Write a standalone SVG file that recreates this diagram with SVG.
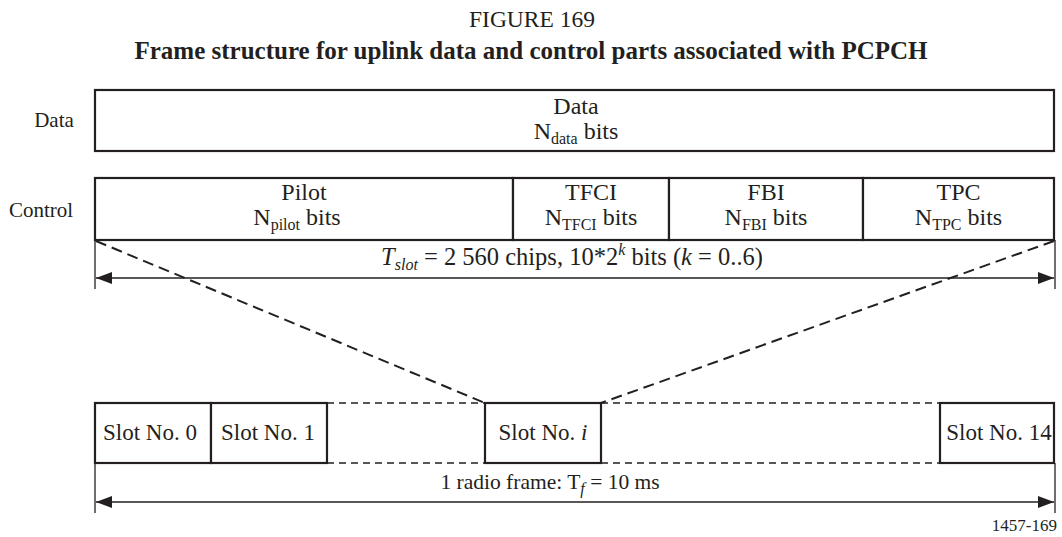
<svg xmlns="http://www.w3.org/2000/svg" width="1062" height="537" viewBox="0 0 1062 537">
<style>
text{font-family:"Liberation Serif","Times New Roman",serif;fill:#231f20;}
.t{font-size:24px;}
.c{text-anchor:middle;}
.sub{font-size:16px;}
.lab{font-size:21px;}
.sl{font-size:23px;}
.box{fill:#fff;stroke:#231f20;stroke-width:2.2;}
.thin{stroke:#231f20;stroke-width:1.3;fill:none;}
.arr{stroke:#231f20;stroke-width:1.6;fill:none;}
.dl{stroke:#231f20;stroke-width:2;fill:none;stroke-dasharray:11 6;}
.dh{stroke:#231f20;stroke-width:1.6;fill:none;stroke-dasharray:7 5;}
</style>
<defs>
<marker id="ah" viewBox="0 0 16 12" refX="16" refY="6" markerWidth="16" markerHeight="12" markerUnits="userSpaceOnUse" orient="auto-start-reverse">
<path d="M0,0 L16,6 L0,12 Z" fill="#231f20"/>
</marker>
</defs>
<text class="c" x="532" y="27" font-size="23.5">FIGURE 169</text>
<text class="c" x="531" y="59" font-size="25" font-weight="bold">Frame structure for uplink data and control parts associated with PCPCH</text>

<text class="lab c" x="54" y="127">Data</text>
<text class="lab c" x="41" y="217">Control</text>

<g id="data">
<rect class="box" x="95" y="90" width="959" height="61"/>
<text class="t c" x="576" y="114">Data</text>
<text class="t c" x="576" y="139">N<tspan class="sub" dy="5">data</tspan><tspan dy="-5"> bits</tspan></text>
</g>
<g id="pilot">
<rect class="box" x="95" y="178" width="418" height="62"/>
<text class="t c" x="304" y="200">Pilot</text>
<text class="t c" x="297" y="225">N<tspan class="sub" dy="5">pilot</tspan><tspan dy="-5"> bits</tspan></text>
</g>
<g id="tfci">
<rect class="box" x="513" y="178" width="156" height="62"/>
<text class="t c" x="591" y="200">TFCI</text>
<text class="t c" x="591" y="225">N<tspan class="sub" dy="5">TFCI</tspan><tspan dy="-5"> bits</tspan></text>
</g>
<g id="fbi">
<rect class="box" x="669" y="178" width="194" height="62"/>
<text class="t c" x="766" y="200">FBI</text>
<text class="t c" x="766" y="225">N<tspan class="sub" dy="5">FBI</tspan><tspan dy="-5"> bits</tspan></text>
</g>
<g id="tpc">
<rect class="box" x="863" y="178" width="191" height="62"/>
<text class="t c" x="958.5" y="200">TPC</text>
<text class="t c" x="958.5" y="225">N<tspan class="sub" dy="5">TPC</tspan><tspan dy="-5"> bits</tspan></text>
</g>

<g id="slot0">
<rect class="box" x="95" y="403" width="116" height="60"/>
<text class="sl c" x="150" y="440">Slot No. 0</text>
</g>
<g id="slot1">
<rect class="box" x="211" y="403" width="116" height="60"/>
<text class="sl c" x="268" y="440">Slot No. 1</text>
</g>
<g id="sloti">
<rect class="box" x="485" y="403" width="116" height="60"/>
<text class="sl c" x="543" y="440">Slot No. <tspan font-style="italic">i</tspan></text>
</g>
<g id="slot14">
<rect class="box" x="940" y="403" width="114" height="60"/>
<text class="sl c" x="999" y="440">Slot No. 14</text>
</g>

<g id="connectors">
<line class="thin" x1="95" y1="240" x2="95" y2="289"/>
<line class="thin" x1="1055" y1="240" x2="1055" y2="289"/>
<line class="arr" x1="96" y1="278" x2="1054" y2="278" marker-start="url(#ah)" marker-end="url(#ah)"/>
<line class="thin" x1="95" y1="463" x2="95" y2="513"/>
<line class="thin" x1="1055" y1="463" x2="1055" y2="513"/>
<line class="arr" x1="96" y1="502" x2="1054" y2="502" marker-start="url(#ah)" marker-end="url(#ah)"/>
<line class="dl" x1="96" y1="241" x2="485" y2="403"/>
<line class="dl" x1="1054" y1="241" x2="601" y2="403"/>
<line class="dh" x1="327" y1="403" x2="485" y2="403"/>
<line class="dh" x1="327" y1="463" x2="485" y2="463"/>
<line class="dh" x1="601" y1="403" x2="940" y2="403"/>
<line class="dh" x1="601" y1="463" x2="940" y2="463"/>
</g>

<text class="c" x="572" y="265" font-size="24.5"><tspan font-style="italic">T</tspan><tspan class="sub" font-style="italic" dy="5">slot</tspan><tspan dy="-5"> = 2 560 chips, 10*2</tspan><tspan class="sub" font-style="italic" dy="-10">k</tspan><tspan dy="10"> bits (</tspan><tspan font-style="italic">k</tspan> = 0..6)</text>
<text class="c" x="550" y="489" font-size="21.5">1 radio frame: T<tspan class="sub" font-style="italic" dy="5">f</tspan><tspan dy="-5"> = 10 ms</tspan></text>
<text x="1057" y="531" font-size="17" text-anchor="end">1457-169</text>
</svg>
